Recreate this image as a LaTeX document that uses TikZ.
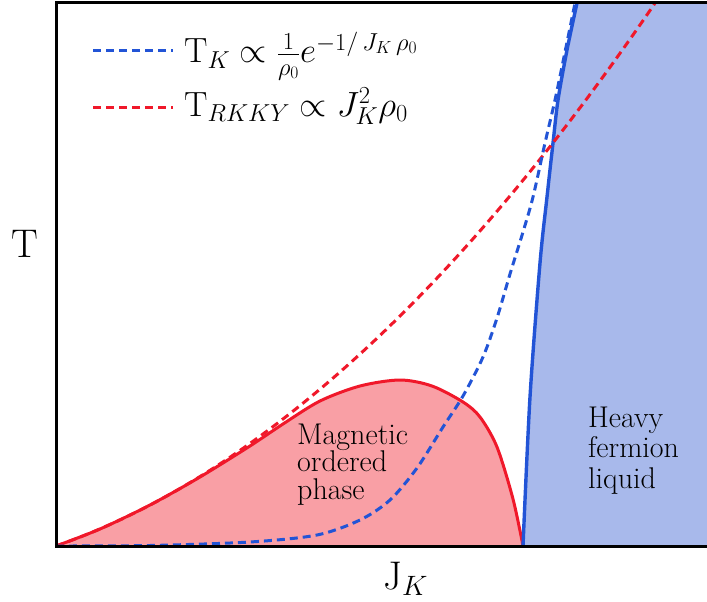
\RequirePackage{fix-cm}
\documentclass[tikz,border=0pt]{standalone}
\definecolor{redline}{HTML}{F0182A}
\definecolor{redfill}{HTML}{F99FA5}
\definecolor{blueline}{HTML}{2254D6}
\definecolor{bluefill}{HTML}{A8B9EB}
\begin{document}
\begin{tikzpicture}[x=1pt,y=-1pt,
  redsolid/.style={draw=redline, line width=3pt, line join=round},
  bluesolid/.style={draw=blueline, line width=3.4pt},
  reddash/.style={draw=redline, line width=3pt, dash pattern=on 8pt off 5pt},
  bluedash/.style={draw=blueline, line width=3pt, dash pattern=on 8pt off 5pt},
  frame/.style={draw=black, line width=3pt},
  biglabel/.style={inner sep=0pt, font=\fontsize{40}{44}\selectfont},
  legtext/.style={inner sep=0pt, anchor=base west, font=\fontsize{35}{38}\selectfont},
  phasetext/.style={inner sep=0pt, anchor=base west, align=left}
]
\useasboundingbox (0,0) rectangle (707,602);
% magnetic dome fill
\fill[redfill] plot[smooth] coordinates {(56,546) (100,529) (150,505) (200,477) (250,446) (283,424) (320,401) (360,386) (400,380) (432,386) (463,402) (480,417) (497,447) (513,499) (523,546)} -- cycle;
% heavy fermion fill
\fill[bluefill] plot[smooth] coordinates {(523,546) (530,397) (540,263) (547,197) (553,143) (558,100) (567,50) (577,3)} -- (707,3) -- (707,546) -- cycle;
% dome boundary
\draw[redsolid] plot[smooth] coordinates {(56,546) (100,529) (150,505) (200,477) (250,446) (283,424) (320,401) (360,386) (400,380) (432,386) (463,402) (480,417) (497,447) (513,499) (523,546)};
% heavy fermion boundary
\draw[bluesolid] plot[smooth] coordinates {(523,546) (530,397) (540,263) (547,197) (553,143) (558,100) (567,50) (577,3)};
% RKKY
\draw[reddash] plot[domain=0:5.99, samples=80, smooth] ({56+100*\x},{546-9.32*\x*\x-34.8*\x});
% Kondo
\draw[bluedash] plot[smooth] coordinates {(56,546) (150,545.5) (250,542) (317,535) (360,520) (390,500) (417,468) (443,427) (463,396) (483,357) (497,318) (510,274) (523,232) (533,197) (545,143) (555,100) (565,52) (575,3)};
% frame
\coordinate (tr) at (707,3);
\coordinate (tl) at (56,3);
\coordinate (bl) at (56,546);
\coordinate (br) at (707,546);
\draw[frame] (tr) -- (tl) -- (bl) -- (br);
% legend
\coordinate (lb1) at (93,51);
\coordinate (lb2) at (173,51);
\coordinate (lr1) at (93,107);
\coordinate (lr2) at (173,107);
\draw[bluedash] (lb1) -- (lb2);
\draw[reddash] (lr1) -- (lr2);
\node[legtext] (legK) at (184,63) {$\mathrm{T}_K \propto \frac{1}{\rho_0} e^{-1/\,J_K\,\rho_0}$};
\node[legtext] (legR) at (184,116) {$\mathrm{T}_{RKKY} \propto J_K^2\rho_0$};
% axis labels
\node[biglabel] (ylab) at (25,243.5) {T};
\node[biglabel, anchor=base west] (xlab) at (383,589) {J$_K$};
% phase labels
\node[phasetext, font=\fontsize{30}{27.5}\selectfont] (mag) at (297,499) {Magnetic\\ordered\\phase};
\node[phasetext, font=\fontsize{30}{30.5}\selectfont] (hf) at (588,488) {Heavy\\fermion\\liquid};
\end{tikzpicture}
\end{document}
